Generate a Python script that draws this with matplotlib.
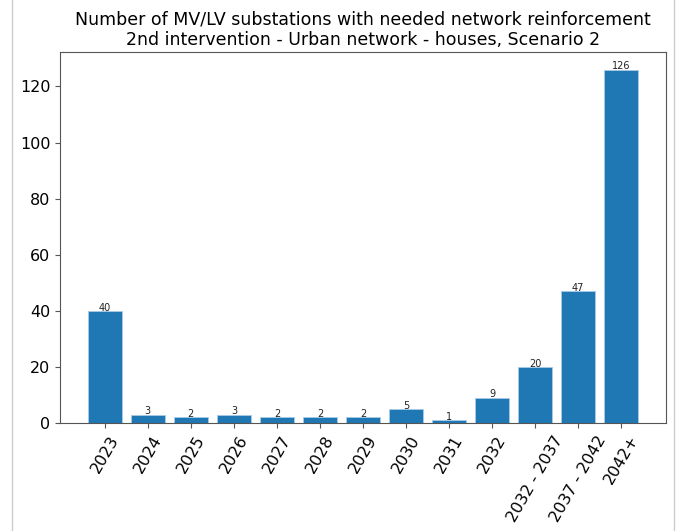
import numpy as np
import matplotlib.pyplot as plt
from matplotlib.lines import Line2D

categories = ['2023', '2024', '2025', '2026', '2027', '2028', '2029', '2030',
              '2031', '2032', '2032 - 2037', '2037 - 2042', '2042+']
counts = [40, 3, 2, 3, 2, 2, 2, 5, 1, 9, 20, 47, 126]

fig = plt.figure(figsize=(6.78, 5.31), dpi=100)
ax = fig.add_axes([60 / 678, 1 - 423 / 531, (666 - 60) / 678, (423 - 52) / 531])

x = np.arange(len(categories))
ax.bar(x, counts, width=0.8, color='#1f77b4', edgecolor='#a6cbe8', linewidth=0.6)
for xi, v in zip(x, counts):
    ax.text(xi, v - 0.6, str(v), ha='center', va='bottom', fontsize=7, color='#222222')

ax.set_xticks(x)
ax.set_xticklabels(categories, rotation=60, fontsize=11.5)
ax.tick_params(axis='y', labelsize=11.5)
for s in ax.spines.values():
    s.set_color('#555555')
ax.tick_params(color='#555555')

ax.set_title('Number of MV/LV substations with needed network reinforcement\n'
             '2nd intervention - Urban network - houses, Scenario 2', fontsize=12.5, pad=5)

# page border lines from the screenshot
fig.add_artist(Line2D([11.5 / 678, 11.5 / 678], [0, 1], color='#cccccc', lw=1))
fig.add_artist(Line2D([674 / 678, 674 / 678], [0, 1], color='#cccccc', lw=1))

fig.savefig('out.png', dpi=100)
